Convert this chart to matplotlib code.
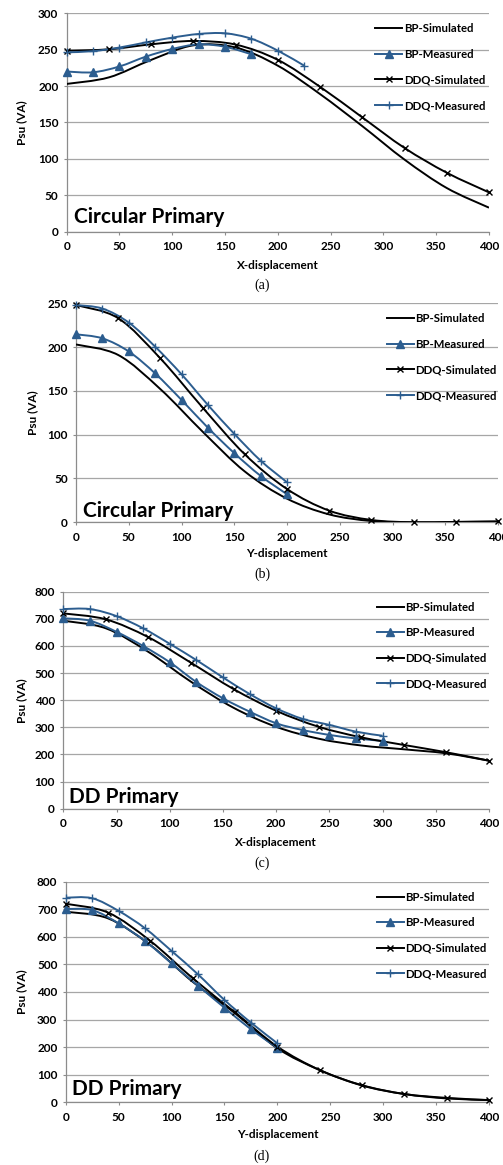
import matplotlib
matplotlib.use("Agg")
import matplotlib.pyplot as plt
from matplotlib.path import Path
from matplotlib.patches import PathPatch
from matplotlib.lines import Line2D
import numpy as np

plt.rcParams['font.family'] = ['Lato', 'DejaVu Sans']

# ---------------- data ----------------
x_sim = [0, 40, 80, 120, 160, 200, 240, 280, 320, 360, 400]
x_meas = [0, 25, 50, 75, 100, 125, 150, 175, 200, 225, 250, 275, 300]

# (a) Circular primary, X-displacement
a_bp_sim = [203, 212, 236, 256, 253, 228, 189, 145, 99, 60, 33]
a_ddq_sim = [248.7, 250.5, 257.4, 262, 257, 236, 199, 157, 115, 81, 54]
a_bp_meas = [220, 219, 227, 240.5, 251, 257.4, 254, 243.7]
a_ddq_meas = [246.4, 248, 253, 260, 266.6, 271.6, 272.5, 265, 248.7, 228]

# (b) Circular primary, Y-displacement
b_bp_sim = [203, 191, 152, 103.5, 58, 27, 9, 1.5, 0, 0.3, 0.8]
b_ddq_sim = [248, 233, 187, 131, 77.6, 38, 13.3, 2.7, 0, 0.5, 1]
b_bp_meas = [214.6, 210, 195, 170, 139.7, 108, 79, 53, 32]
b_ddq_meas = [248, 244, 228, 200.5, 169, 134, 101, 70.4, 45.7]

# (c) DD primary, X-displacement
c_bp_sim = [693, 665, 578, 468, 372, 302, 258, 233, 219, 204, 177]
c_ddq_sim = [720, 698, 632, 538, 441, 361, 302, 263, 235, 208, 177]
c_bp_meas = [702, 693, 652, 600, 540, 467, 407, 358, 315, 290, 272, 259, 250]
c_ddq_meas = [736, 736, 710, 665, 608, 548, 484, 423, 370, 331, 309, 284, 269]

# (d) DD primary, Y-displacement
d_bp_sim = [691, 667, 570, 437, 323, 196, 117, 61, 30, 16, 8]
d_ddq_sim = [720, 688, 585, 450, 326, 202, 117, 62, 30, 14, 8]
d_bp_meas = [701, 697, 649, 585, 504, 423, 343, 265, 198]
d_ddq_meas = [742, 740, 694, 631, 549, 464, 371, 289, 214]

panels = [
    dict(bp_sim=a_bp_sim, ddq_sim=a_ddq_sim, bp_meas=a_bp_meas, ddq_meas=a_ddq_meas,
         ymax=300, ystep=50, xlabel='X-displacement', title='Circular Primary', cap='(a)'),
    dict(bp_sim=b_bp_sim, ddq_sim=b_ddq_sim, bp_meas=b_bp_meas, ddq_meas=b_ddq_meas,
         ymax=250, ystep=50, xlabel='Y-displacement', title='Circular Primary', cap='(b)'),
    dict(bp_sim=c_bp_sim, ddq_sim=c_ddq_sim, bp_meas=c_bp_meas, ddq_meas=c_ddq_meas,
         ymax=800, ystep=100, xlabel='X-displacement', title='DD Primary', cap='(c)'),
    dict(bp_sim=d_bp_sim, ddq_sim=d_ddq_sim, bp_meas=d_bp_meas, ddq_meas=d_ddq_meas,
         ymax=800, ystep=100, xlabel='Y-displacement', title='DD Primary', cap='(d)'),
]

# ---------------- layout (figure fractions) ----------------
W, H = 503, 1165
axes_px = [  # left, right, top, bottom in pixels
    (66.7, 489, 13.3, 231.7),
    (76, 498, 303.3, 522.3),
    (63.3, 489, 591.7, 808.7),
    (65.7, 489, 881.7, 1102.3),
]
xlabel_y = [-0.156, -0.1416, -0.1535, -0.1437]
ylabel_x = [-0.1058, -0.102, -0.0977, -0.104]
title_pos = [(0.017, 0.040), (0.016, 0.026), (0.014, 0.028), (0.014, 0.033)]
cap_y_px = [285, 574, 863, 1156]
leg_x = [0.730, 0.736, 0.736, 0.735]

BLUE = '#2C5D8F'
BLACK = '#000000'
GRID = '#A6A6A6'
SPINE = '#8C8C8C'


def smooth_path(xs, ys):
    pts = np.column_stack([xs, ys]).astype(float)
    n = len(pts)
    verts = [pts[0]]
    codes = [Path.MOVETO]
    for i in range(n - 1):
        p0 = pts[i - 1] if i > 0 else pts[i]
        p1 = pts[i]
        p2 = pts[i + 1]
        p3 = pts[i + 2] if i + 2 < n else pts[i + 1]
        c1 = p1 + (p2 - p0) / 6.0
        c2 = p2 - (p3 - p1) / 6.0
        verts += [c1, c2, p2]
        codes += [Path.CURVE4] * 3
    return Path(verts, codes)


fig = plt.figure(figsize=(W / 100, H / 100), dpi=100)

for k, p in enumerate(panels):
    l, r, t, b = axes_px[k]
    ax = fig.add_axes([l / W, 1 - b / H, (r - l) / W, (b - t) / H])
    ax.set_xlim(0, 400)
    ax.set_ylim(0, p['ymax'])
    ax.set_xticks(np.arange(0, 401, 50))
    ax.set_yticks(np.arange(0, p['ymax'] + 1, p['ystep']))
    ax.grid(axis='y', color=GRID, lw=0.9)
    ax.set_axisbelow(True)
    for s in ['top', 'right']:
        ax.spines[s].set_visible(False)
    for s in ['left', 'bottom']:
        ax.spines[s].set_color(SPINE)
        ax.spines[s].set_linewidth(0.9)
    ax.tick_params(axis='both', direction='out', length=2.5, width=0.8, color=SPINE,
                   labelsize=8.5, pad=3.5)
    ax.tick_params(axis='x', pad=4.5)
    for lab in ax.get_xticklabels() + ax.get_yticklabels():
        lab.set_fontweight('bold')

    series = [
        (x_sim, p['bp_sim'], BLACK, None, 0, 'BP-Simulated'),
        (x_meas, p['bp_meas'], BLUE, '^', 5.5, 'BP-Measured'),
        (x_sim, p['ddq_sim'], BLACK, 'x', 5, 'DDQ-Simulated'),
        (x_meas, p['ddq_meas'], BLUE, '+', 6, 'DDQ-Measured'),
    ]
    handles = []
    for xs, ys, col, mk, ms, lab in series:
        xs = xs[:len(ys)]
        patch = PathPatch(smooth_path(xs, ys), facecolor='none', edgecolor=col,
                          lw=1.4, transform=ax.transData, zorder=3)
        ax.add_patch(patch)
        if mk is not None:
            ax.plot(xs, ys, ls='none', marker=mk, ms=ms, color=col,
                    mew=1.0, zorder=4, clip_on=False)
        handles.append(Line2D([], [], color=col, lw=1.4, marker=mk, ms=ms, mew=1.0))

    leg = ax.legend(handles, [s[5] for s in series], loc='upper left',
                    bbox_to_anchor=(leg_x[k], 1 - 10.0 / (b - t)), frameon=False,
                    borderpad=0, borderaxespad=0, handlelength=2.4, handletextpad=0.12,
                    labelspacing=1.28, prop=dict(size=8.2, weight='bold'))

    ax.set_xlabel(p['xlabel'], fontsize=8.5, fontweight='bold')
    ax.xaxis.set_label_coords(0.5, xlabel_y[k])
    ax.xaxis.label.set_va('center')
    ax.set_ylabel('Psu (VA)', fontsize=8.5, fontweight='bold')
    ax.yaxis.set_label_coords(ylabel_x[k], 0.5)
    ax.yaxis.label.set_va('center')

    ax.text(title_pos[k][0], title_pos[k][1], p['title'], transform=ax.transAxes,
            fontsize=15, fontweight='bold', ha='left', va='baseline', zorder=5)

    fig.text(262 / W, 1 - cap_y_px[k] / H, p['cap'], ha='center', va='center',
             fontsize=10, family=['Liberation Serif', 'DejaVu Serif'])

fig.savefig('out.png', dpi=100)
